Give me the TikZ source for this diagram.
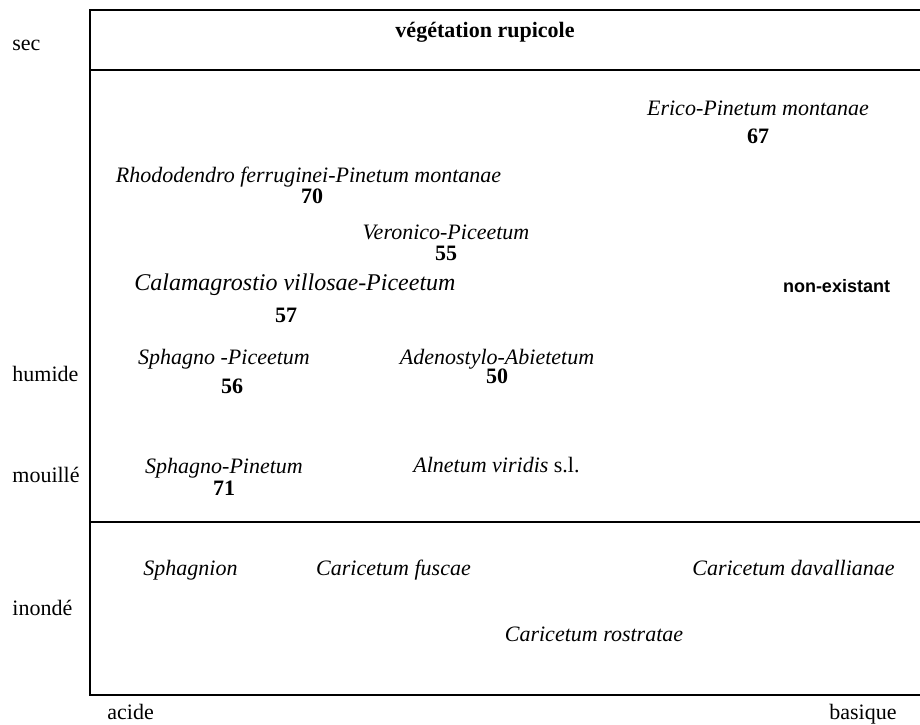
\documentclass[tikz,border=0pt]{standalone}
\usepackage{fontspec}
\setmainfont{Liberation Serif}
\newfontfamily\headsans{Liberation Sans}
\usetikzlibrary{positioning}

\begin{document}
\begin{tikzpicture}[x=0.5pt, y=-0.5pt]
  \tikzset{
    assoc/.style={inner sep=0pt, anchor=base, font=\fontsize{11}{13}\selectfont\itshape, text height=7.5pt, text depth=2.5pt},
    num/.style={inner sep=0pt, font=\fontsize{11}{13}\selectfont\bfseries, text height=7.5pt, text depth=0pt},
    axis/.style={inner sep=0pt, anchor=base west, font=\fontsize{11}{13}\selectfont},
    frame/.style={line width=0.8pt}
  }
  \useasboundingbox (0,0) rectangle (920,724);

  % frame of the diagram
  \draw[frame] (920,10) -- (90,10) -- (90,695) -- (920,695);
  \draw[frame] (90,70) -- (920,70);
  \draw[frame] (90,522) -- (920,522);

  % moisture and pH axes
  \node[axis] (sec) at (12,50) {sec};
  \node[axis] (humide) at (12,381) {humide};
  \node[axis] (mouille) at (12,482) {mouillé};
  \node[axis] (inonde) at (12,615) {inondé};
  \node[axis] (acide) at (107,719) {acide};
  \node[axis, anchor=base east] (basique) at (897,719) {basique};

  \node[inner sep=0pt, anchor=base, font=\fontsize{11}{13}\selectfont\bfseries] (rupicole) at (485,37) {végétation rupicole};

  % forest associations
  \node[assoc] (erico) at (758,115) {Erico-Pinetum montanae};
  \node[num, below=3.75pt of erico] (ericoNum) {67};
  \node[assoc] (rhodo) at (308.5,182) {Rhododendro ferruginei-Pinetum montanae};
  \node[num, below=0.25pt of rhodo, xshift=1.75pt] (rhodoNum) {70};
  \node[assoc] (veronico) at (446,239) {Veronico-Piceetum};
  \node[num, below=0.25pt of veronico] (veronicoNum) {55};
  \node[assoc, font=\fontsize{12}{14}\selectfont\itshape] (calama) at (295,290) {Calamagrostio villosae-Piceetum};
  \node[num, below=6pt of calama, xshift=-4.5pt] (calamaNum) {57};
  \node[inner sep=0pt, anchor=base, font=\headsans\fontsize{9}{11}\selectfont\bfseries] (nonex) at (836.5,292) {non-existant};
  \node[assoc] (sphpic) at (224,364) {Sphagno -Piceetum};
  \node[num, below=4.25pt of sphpic, xshift=4pt] (sphpicNum) {56};
  \node[assoc] (adeno) at (497,364) {Adenostylo-Abietetum};
  \node[num, below=-0.75pt of adeno] (adenoNum) {50};
  \node[assoc] (sphpin) at (224,473) {Sphagno-Pinetum};
  \node[num, below=0.75pt of sphpin] (sphpinNum) {71};
  \node[assoc] (alnetum) at (496.5,472) {Alnetum viridis\/ \textup{s.l.}};

  % flooded zone
  \node[assoc] (sphagnion) at (190.5,575) {Sphagnion};
  \node[assoc] (fuscae) at (393.5,575) {Caricetum fuscae};
  \node[assoc] (davall) at (793.5,575) {Caricetum davallianae};
  \node[assoc] (rostr) at (594,641) {Caricetum rostratae};
\end{tikzpicture}
\end{document}
